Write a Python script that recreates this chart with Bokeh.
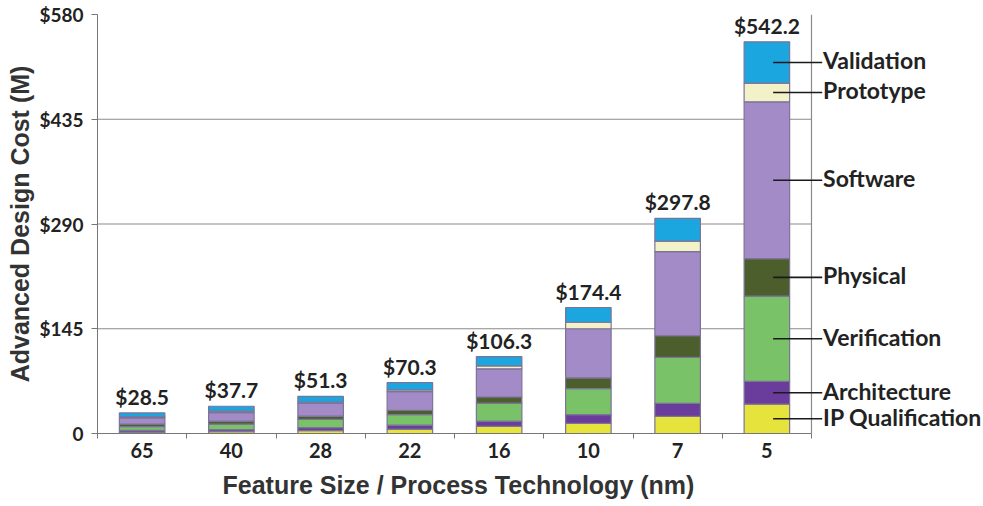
from bokeh.plotting import figure
from bokeh.models import (Range1d, FixedTicker, Label, Arrow, ColumnDataSource, Title)
from bokeh.core.properties import value
from bokeh.embed import file_html
from bokeh.resources import INLINE

# ---------------- data ----------------
nodes = ["65", "40", "28", "22", "16", "10", "7", "5"]
totals = [28.5, 37.7, 51.3, 70.3, 106.3, 174.4, 297.8, 542.2]

ip_qualification = [2.0, 2.5, 4.0, 6.0, 10.0, 14.0, 23.8, 40.7]
architecture     = [2.5, 3.0, 4.0, 5.5, 7.0, 12.0, 18.0, 31.4]
verification     = [5.0, 7.5, 11.5, 14.5, 25.0, 36.0, 63.5, 118.0]
physical         = [3.5, 4.0, 4.5, 6.0, 8.5, 15.0, 30.0, 52.0]
software         = [8.5, 12.0, 17.5, 26.0, 39.0, 68.0, 116.5, 217.0]
prototype        = [1.5, 2.0, 1.8, 2.3, 4.0, 9.0, 14.6, 26.0]
validation       = [5.5, 6.7, 8.0, 10.0, 12.8, 20.4, 31.4, 57.1]

stages = ["IP Qualification", "Architecture", "Verification", "Physical",
          "Software", "Prototype", "Validation"]
stage_values = [ip_qualification, architecture, verification, physical,
                software, prototype, validation]
colors = ["#e6e33c", "#6a3d9c", "#79c267", "#4b5e2c", "#a38bc7", "#f3f1c7", "#1ca6df"]

y_ticks = [0, 145, 290, 435, 580]
y_tick_labels = ["0", "$145", "$290", "$435", "$580"]
grid_values = [145, 290, 435]

# category slots on a numeric axis (slot i spans [i, i+1])
n = len(nodes)
pos = [i + 0.5 for i in range(n)]
bounds = list(range(n + 1))

# ---------------- figure ----------------
LEFT, PLOT_W, W = 97, 714, 983
x_end = n * (W - LEFT) / PLOT_W   # extra room on the right for the stage labels

p = figure(width=W, height=506, x_range=Range1d(0, x_end),
           y_range=Range1d(0, 580),
           output_backend="svg", toolbar_location=None,
           min_border_left=LEFT, min_border_right=0,
           min_border_top=14, min_border_bottom=71)
p.outline_line_color = None
p.xgrid.grid_line_color = None
p.ygrid.grid_line_color = None

# horizontal grid lines and right border of the plotting area
p.segment(x0=[0] * len(grid_values), x1=[n] * len(grid_values),
          y0=grid_values, y1=grid_values, line_color="#8a8a8a", line_width=1.2)
p.segment(x0=[n], x1=[n], y0=[0], y1=[580], line_color="#8a8a8a", line_width=1.2)

src = ColumnDataSource(dict(x=pos, **{s: v for s, v in zip(stages, stage_values)}))
p.vbar_stack(stages, x="x", width=0.51, fill_color=colors,
             line_color="#7c7398", line_width=1.2, source=src)

p.text(x=pos, y=totals, text=[f"${t:.1f}" for t in totals],
       text_font=value("Lato"), text_font_style="bold", text_font_size="21px",
       text_color="#222222", text_align="center", text_baseline="bottom",
       y_offset=-4)

# y axis
ya = p.yaxis[0]
ya.ticker = FixedTicker(ticks=y_ticks)
ya.major_label_overrides = {t: l for t, l in zip(y_ticks, y_tick_labels)}
ya.axis_label = "Advanced Design Cost (M)"
ya.axis_label_text_font = "Liberation Sans"
ya.axis_label_text_font_style = "bold"
ya.axis_label_text_font_size = "25px"
ya.axis_label_text_color = "#333333"
ya.axis_label_standoff = 2
ya.major_label_text_font = "Lato"
ya.major_label_text_font_style = "bold"
ya.major_label_text_font_size = "19px"
ya.major_label_text_color = "#222222"
ya.major_label_standoff = 8
ya.major_tick_in = 0
ya.major_tick_out = 6
ya.minor_tick_line_color = None
ya.axis_line_color = "#777777"
ya.major_tick_line_color = "#777777"

# x axis: category labels at slot centres, ticks at slot boundaries
xa = p.xaxis[0]
xa.bounds = (0, n)
xa.ticker = FixedTicker(ticks=pos, minor_ticks=bounds)
xa.major_label_overrides = {x: lab for x, lab in zip(pos, nodes)}
xa.major_tick_line_color = None
xa.minor_tick_in = 0
xa.minor_tick_out = 5
xa.minor_tick_line_color = "#777777"
xa.axis_line_color = "#777777"
xa.major_label_text_font = "Lato"
xa.major_label_text_font_style = "bold"
xa.major_label_text_font_size = "20px"
xa.major_label_text_color = "#222222"
xa.major_label_standoff = 3

# x axis title, centred under the bar area (not under the label column)
p.add_layout(Title(text="Feature Size / Process Technology (nm)", align="left",
                   offset=125, standoff=16, text_font="Liberation Sans",
                   text_font_style="bold", text_font_size="25px",
                   text_color="#333333"), "below")

# leader labels for the last bar
last = [v[-1] for v in stage_values]
cum = 0.0
xc = pos[-1]
for name, v in zip(stages, last):
    mid = cum + v / 2.0
    cum += v
    p.add_layout(Arrow(end=None, x_start=xc + 0.07, y_start=mid, x_end=xc + 0.62, y_end=mid,
                       line_color="#1a1a1a", line_width=1.6))
    p.add_layout(Label(x=xc + 0.63, y=mid, y_offset=2, text=name, text_font="Lato",
                       text_font_style="bold", text_font_size="23px",
                       text_color="#222222", text_baseline="middle", text_align="left"))

open("out.html", "w").write(file_html(p, INLINE))
